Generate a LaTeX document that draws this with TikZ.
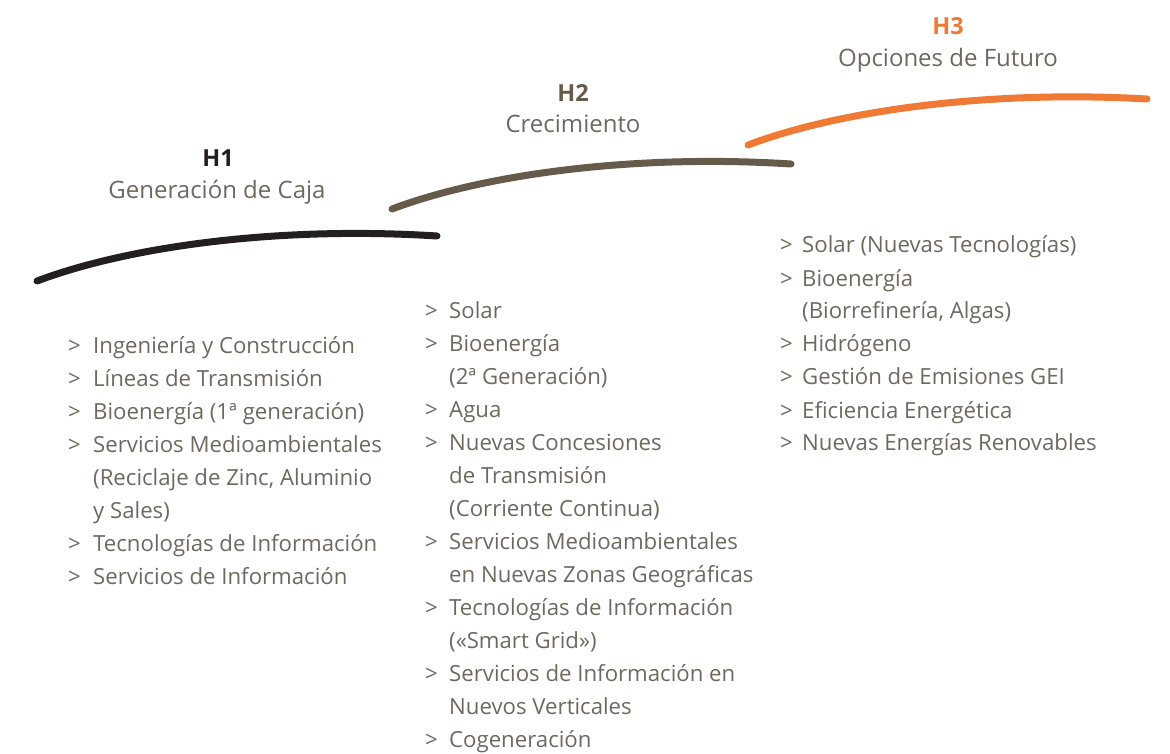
\documentclass[tikz,border=0pt]{standalone}
\usepackage{fontspec}
\setmainfont{Open Sans}
\definecolor{txt}{HTML}{6E685E}
\definecolor{hone}{HTML}{231F20}
\definecolor{htwo}{HTML}{665B4A}
\definecolor{hthree}{HTML}{F07A35}
\newcommand{\itm}[1]{>&#1\\}
\newcommand{\cnt}[1]{&#1\\}
\tikzset{
  curve/.style={line width=7pt,line cap=round},
  head/.style={font=\fontsize{23.5}{26}\selectfont\bfseries,anchor=base,inner sep=0pt},
  sub/.style={font=\fontsize{24}{26}\selectfont,text=txt,anchor=base,inner sep=0pt},
  lst/.style={font=\fontsize{22.2}{33}\selectfont,text=txt,anchor=base west,inner sep=0pt}
}
\begin{document}
\begin{tikzpicture}[x=1pt,y=-1pt]
\useasboundingbox (0,0) rectangle (1170,754);
% curves
\draw[curve,hone] (37,281) .. controls (130,246) and (280,226) .. (437,236);
\draw[curve,htwo] (392,209) .. controls (485,174) and (635,154) .. (791,164);
\draw[curve,hthree] (748,145) .. controls (841,110) and (991,90) .. (1147,99);
% headers
\node[head,text=hone] (h1) at (218,167) {H1};
\node[sub] (s1) at (217,199) {Generación de Caja};
\node[head,text=htwo] (h2) at (573,102) {H2};
\node[sub] (s2) at (573,133) {Crecimiento};
\node[head,text=hthree] (h3) at (948,35) {H3};
\node[sub] (s3) at (948,67) {Opciones de Futuro};
% lists
\node[lst] (l1) at (68,353) {\begin{tabular}[t]{@{}p{25pt}@{}l@{}}
\itm{Ingeniería y Construcción}
\itm{Líneas de Transmisión}
\itm{Bioenergía (1ª generación)}
\itm{Servicios Medioambientales}
\cnt{(Reciclaje de Zinc, Aluminio}
\cnt{y Sales)}
\itm{Tecnologías de Información}
\itm{Servicios de Información}
\end{tabular}};
\node[lst] (l2) at (425,318) {\begin{tabular}[t]{@{}p{24pt}@{}l@{}}
\itm{Solar}
\itm{Bioenergía}
\cnt{(2ª Generación)}
\itm{Agua}
\itm{Nuevas Concesiones}
\cnt{de Transmisión}
\cnt{(Corriente Continua)}
\itm{Servicios Medioambientales}
\cnt{en Nuevas Zonas Geográficas}
\itm{Tecnologías de Información}
\cnt{(«Smart Grid»)}
\itm{Servicios de Información en}
\cnt{Nuevos Verticales}
\itm{Cogeneración}
\end{tabular}};
\node[lst] (l3) at (780,253) {\begin{tabular}[t]{@{}p{22pt}@{}l@{}}
\itm{Solar (Nuevas Tecnologías)}
\itm{Bioenergía}
\cnt{(Biorrefinería, Algas)}
\itm{Hidrógeno}
\itm{Gestión de Emisiones GEI}
\itm{Eficiencia Energética}
\itm{Nuevas Energías Renovables}
\end{tabular}};
\end{tikzpicture}
\end{document}
